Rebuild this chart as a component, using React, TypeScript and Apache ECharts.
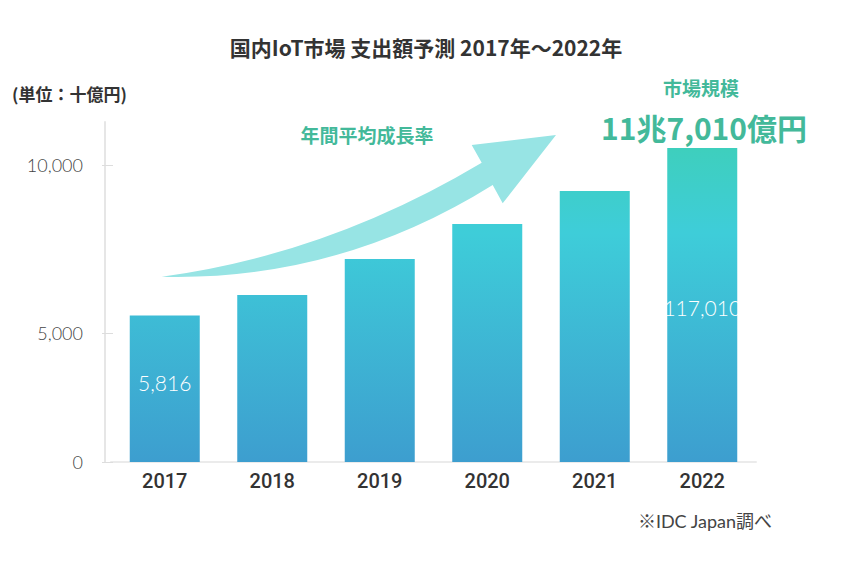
import React, { useEffect, useRef } from "react";
import * as echarts from "echarts";

const years = ["2017", "2018", "2019", "2020", "2021", "2022"];
const spending = [5816, 6631, 8060, 9450, 10760, 12468];
const barLabels = ["5,816", "", "", "", "", "117,010"];
const lowerTicks = [0, 5000];
const upperTicks = [5000, 10000];

const titleText = "国内IoT市場 支出額予測 2017年〜2022年";
const unitText = "(単位：十億円)";
const marketLabel = "市場規模";
const marketValue = "11兆7,010億円";
const growthLabel = "年間平均成長率";
const sourceText = "※IDC Japan調べ";

const ARROW_D =
  "M161.7 276.7 Q328.3 254.3 481.7 162.7 L471.7 145 L556 135 L502.7 203.3 L492.7 185 Q338.8 281.1 161.7 276.7 Z";

let registered = false;
function registerArrow() {
  if (registered) return;
  echarts.graphic.registerShape("growthArrow", echarts.graphic.extendPath(ARROW_D, {}));
  registered = true;
}

const JP = "'Noto Sans CJK JP', 'Noto Sans', sans-serif";
const GREEN = "#43b99a";

export default function App() {
  const ref = useRef<HTMLDivElement>(null);

  useEffect(() => {
    document.body.style.margin = "0";
    registerArrow();
    const chart = echarts.init(ref.current!, undefined, { renderer: "svg" });

    const gradient = new echarts.graphic.LinearGradient(
      0,
      148,
      0,
      462,
      [
        { offset: 0, color: "#3ecfbd" },
        { offset: 0.27, color: "#3ecdd9" },
        { offset: 1, color: "#3d9ecf" },
      ],
      true
    );

    const tickAxisCommon = {
      type: "value",
      offset: 10,
      axisLine: { show: false },
      axisTick: { show: true, length: 11, lineStyle: { color: "#dddddd", width: 1 } },
      splitLine: { show: false },
      axisLabel: {
        margin: 20,
        color: "#444",
        fontSize: 18,
        fontFamily: "Lato, sans-serif",
        fontWeight: 300,
        formatter: (v: number) => v.toLocaleString("en-US"),
      },
    };

    const labelShift = (i: number) => (i === 0 ? -6 : i === years.length - 1 ? 3 : 0);

    chart.setOption({
      animation: false,
      grid: [
        { left: 111, right: 96, top: 122, bottom: 106 },
        { left: 113, right: 94, top: 333, bottom: 106 },
        { left: 113, right: 94, top: 165, bottom: 235 },
      ],
      xAxis: [
        {
          type: "category",
          gridIndex: 0,
          data: years,
          axisLine: { show: true, lineStyle: { color: "#ebebeb", width: 2 } },
          axisTick: { show: false },
          axisLabel: {
            color: "#333",
            fontSize: 20,
            fontWeight: 500,
            fontFamily: "Roboto, sans-serif",
            margin: 9,
          },
        },
        { type: "value", gridIndex: 1, show: false },
        { type: "value", gridIndex: 2, show: false },
      ],
      yAxis: [
        {
          type: "value",
          gridIndex: 0,
          min: 0,
          max: 13500,
          offset: 6,
          axisLine: { show: true, lineStyle: { color: "#e6e6e6", width: 2 } },
          axisTick: { show: false },
          axisLabel: { show: false },
          splitLine: { show: false },
        },
        {
          ...tickAxisCommon,
          gridIndex: 1,
          min: lowerTicks[0],
          max: lowerTicks[1],
          interval: lowerTicks[1] - lowerTicks[0],
        },
        {
          ...tickAxisCommon,
          gridIndex: 2,
          min: upperTicks[0],
          max: upperTicks[1],
          interval: upperTicks[1] - upperTicks[0],
          axisLabel: { ...tickAxisCommon.axisLabel, showMinLabel: false },
        },
      ],
      series: [
        {
          type: "bar",
          xAxisIndex: 0,
          yAxisIndex: 0,
          data: spending.map((v, i) => ({
            value: v,
            label: { offset: [0, labelShift(i)] },
          })),
          barWidth: 70,
          itemStyle: { color: gradient },
          label: {
            show: true,
            position: "inside",
            formatter: (p: any) => barLabels[p.dataIndex],
            color: "#ffffff",
            fontSize: 21,
            fontFamily: "Lato, sans-serif",
            fontWeight: 300,
          },
        },
      ],
      graphic: [
        {
          type: "growthArrow",
          x: 0,
          y: 0,
          z: 1,
          style: { fill: "#97e4e4" },
        },
        {
          type: "text",
          x: 426,
          y: 47,
          style: {
            text: titleText,
            fill: "#333",
            font: `bold 21px ${JP}`,
            textAlign: "center",
            textVerticalAlign: "middle",
          },
        },
        {
          type: "text",
          x: 12,
          y: 93,
          style: {
            text: unitText,
            fill: "#333",
            font: `bold 17px ${JP}`,
            textAlign: "left",
            textVerticalAlign: "middle",
          },
        },
        {
          type: "text",
          x: 701,
          y: 87,
          style: {
            text: marketLabel,
            fill: GREEN,
            font: `bold 19px ${JP}`,
            textAlign: "center",
            textVerticalAlign: "middle",
          },
        },
        {
          type: "text",
          x: 704,
          y: 127,
          style: {
            text: marketValue,
            fill: GREEN,
            font: `bold 30px ${JP}`,
            textAlign: "center",
            textVerticalAlign: "middle",
          },
        },
        {
          type: "text",
          x: 367,
          y: 134,
          style: {
            text: growthLabel,
            fill: GREEN,
            font: `bold 19px ${JP}`,
            textAlign: "center",
            textVerticalAlign: "middle",
          },
        },
        {
          type: "text",
          x: 772,
          y: 521,
          style: {
            text: sourceText,
            fill: "#444",
            font: `18px Lato, ${JP}`,
            textAlign: "right",
            textVerticalAlign: "middle",
          },
        },
      ],
    });

    return () => chart.dispose();
  }, []);

  return <div ref={ref} style={{ width: 852, height: 568 }} />;
}
